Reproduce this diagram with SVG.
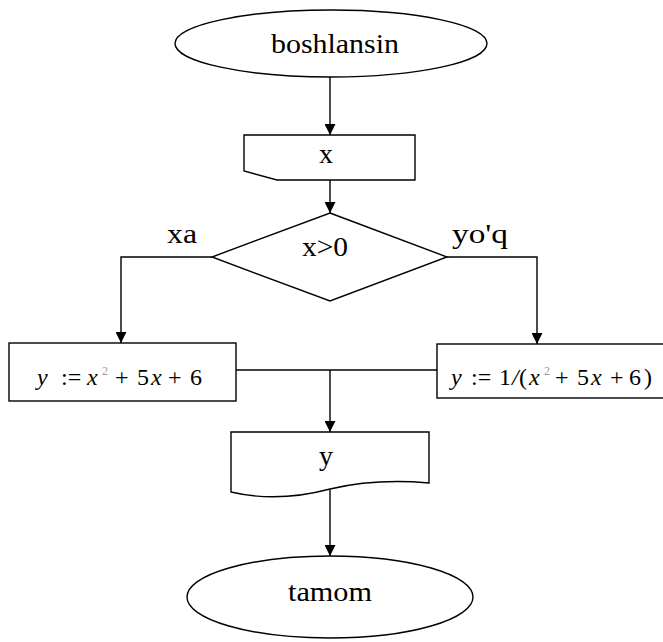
<svg xmlns="http://www.w3.org/2000/svg" width="663" height="642" viewBox="0 0 663 642">
<style>
.s{fill:#fff;stroke:#000;stroke-width:1.4}
.c{fill:none;stroke:#000;stroke-width:1.4}
.t{font-family:"Liberation Serif","Times New Roman",serif;font-size:28px;fill:#000}
.f{font-family:"Liberation Serif","Times New Roman",serif;font-size:24px;fill:#000}
.i{font-style:italic}
.sup{font-size:12px;fill:#999}
</style>
<defs>
<marker id="ah" markerUnits="userSpaceOnUse" markerWidth="11" markerHeight="11" refX="11" refY="5.5" orient="auto">
<path d="M0,0 L11,5.5 L0,11 z" fill="#000"/>
</marker>
</defs>
<rect width="663" height="642" fill="#fff"/>
<g id="connectors">
<line class="c" x1="330" y1="77" x2="330" y2="135" marker-end="url(#ah)"/>
<line class="c" x1="330" y1="180" x2="330" y2="213" marker-end="url(#ah)"/>
<polyline class="c" points="212,257 121,257 121,343" marker-end="url(#ah)"/>
<polyline class="c" points="447,257 537,257 537,344" marker-end="url(#ah)"/>
<line class="c" x1="236" y1="370" x2="437" y2="370"/>
<line class="c" x1="330" y1="370" x2="330" y2="432" marker-end="url(#ah)"/>
<line class="c" x1="330" y1="490" x2="330" y2="556" marker-end="url(#ah)"/>
</g>
<g id="start">
<ellipse class="s" cx="331" cy="43.5" rx="156" ry="33.5"/>
<text class="t" x="335" y="53" text-anchor="middle" textLength="128" lengthAdjust="spacingAndGlyphs">boshlansin</text>
</g>
<g id="input">
<path class="s" d="M244,135 H415 V180 H277 L244,171 Z"/>
<text class="t" x="326" y="163" text-anchor="middle">x</text>
</g>
<g id="decision">
<path class="s" d="M330,213 L447,257 L330,301 L212,257 Z"/>
<text class="t" x="325" y="256" text-anchor="middle" textLength="46" lengthAdjust="spacingAndGlyphs">x&gt;0</text>
<text class="t" x="182" y="243" text-anchor="middle" textLength="30" lengthAdjust="spacingAndGlyphs">xa</text>
<text class="t" x="480" y="243" text-anchor="middle" textLength="56" lengthAdjust="spacingAndGlyphs">yo'q</text>
</g>
<g id="calc-yes">
<rect class="s" x="9" y="343" width="227" height="58"/>
<text class="f" y="385"><tspan class="i" x="37">y</tspan><tspan x="61">:=</tspan><tspan class="i" x="87">x</tspan><tspan class="sup" x="102" dy="-10">2</tspan><tspan x="115" dy="10">+</tspan><tspan x="137">5</tspan><tspan class="i" x="151">x</tspan><tspan x="168">+</tspan><tspan x="190">6</tspan></text>
</g>
<g id="calc-no">
<rect class="s" x="437" y="344" width="240" height="54"/>
<text class="f" y="385"><tspan class="i" x="451">y</tspan><tspan x="471">:=</tspan><tspan x="499">1</tspan><tspan class="i" x="512">/</tspan><tspan x="519">(</tspan><tspan class="i" x="529">x</tspan><tspan class="sup" x="544" dy="-10">2</tspan><tspan x="555" dy="10">+</tspan><tspan x="577">5</tspan><tspan class="i" x="591">x</tspan><tspan x="610">+</tspan><tspan x="629">6</tspan><tspan x="644">)</tspan></text>
</g>
<g id="output">
<path class="s" d="M429,432 H231 V492 C265,500 300,497 330,489 C360,482 395,480 429,483 Z"/>
<text class="t" x="326" y="465" text-anchor="middle">y</text>
</g>
<g id="end">
<ellipse class="s" cx="330" cy="597" rx="143" ry="41"/>
<text class="t" x="330" y="601" text-anchor="middle" textLength="84" lengthAdjust="spacingAndGlyphs">tamom</text>
</g>
</svg>
